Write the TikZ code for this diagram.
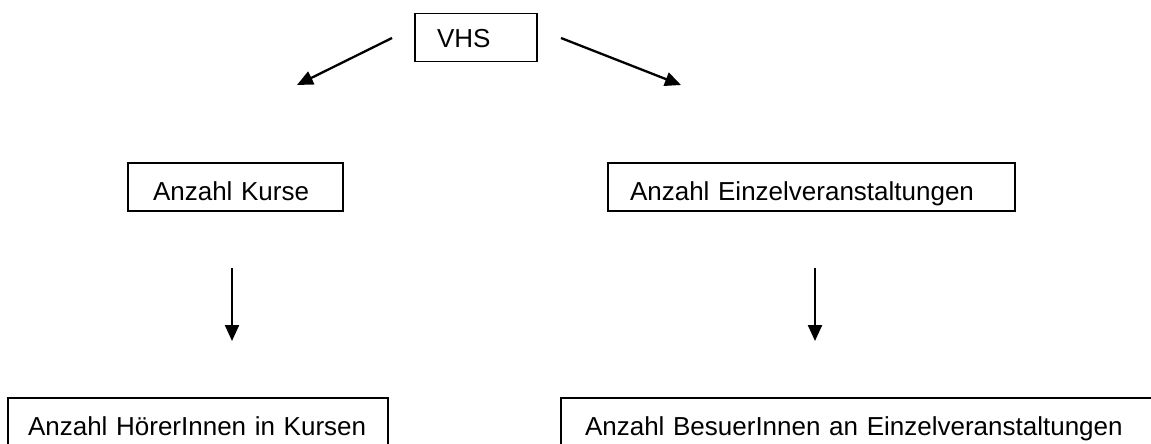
\documentclass[tikz,border=0pt]{standalone}
\usepackage{fontspec}
\setmainfont{Liberation Sans}
\usetikzlibrary{arrows.meta}

\begin{document}
\begin{tikzpicture}[x=1pt, y=-1pt,
  box/.style={draw, line width=1.6pt, align=left, anchor=center,
    font=\fontsize{26}{30}\selectfont, inner ysep=0pt,
    text height=26pt, text depth=0pt},
  arr/.style={line width=2.3pt, -{Triangle[length=16pt, width=14pt]}}]
  \useasboundingbox (0,0) rectangle (1151,444);
  \clip (0,0) rectangle (1151,444);

  % boxes
  \node[box, minimum height=48pt, inner xsep=22pt, text width=78pt,
        text height=21pt] (vhs) at (476,37.5) {VHS};
  \node[box, minimum height=48pt, inner xsep=25pt, text width=165pt]
        (kurse) at (235.5,187) {Anzahl Kurse};
  \node[box, minimum height=48pt, inner xsep=22pt, text width=363pt]
        (einzel) at (811.5,187) {Anzahl Einzelveranstaltungen};
  \node[box, minimum height=48pt, inner xsep=20pt, text width=340pt]
        (hoerer) at (198,422) {Anzahl HörerInnen in Kursen};
  \node[box, minimum height=48pt, inner xsep=24pt, text width=561pt]
        (besucher) at (865.5,422) {Anzahl BesuerInnen an Einzelveranstaltungen};

  % free-standing arrow ends
  \coordinate (la1) at (392,38);
  \coordinate (la2) at (297,85);
  \coordinate (ra1) at (561,38);
  \coordinate (ra2) at (681,85);
  \coordinate (lv1) at (232,268);
  \coordinate (lv2) at (232,341);
  \coordinate (rv1) at (815,268);
  \coordinate (rv2) at (815,341);

  % arrows
  \draw[arr] (la1) -- (la2);
  \draw[arr] (ra1) -- (ra2);
  \draw[arr] (lv1) -- (lv2);
  \draw[arr] (rv1) -- (rv2);
\end{tikzpicture}
\end{document}
